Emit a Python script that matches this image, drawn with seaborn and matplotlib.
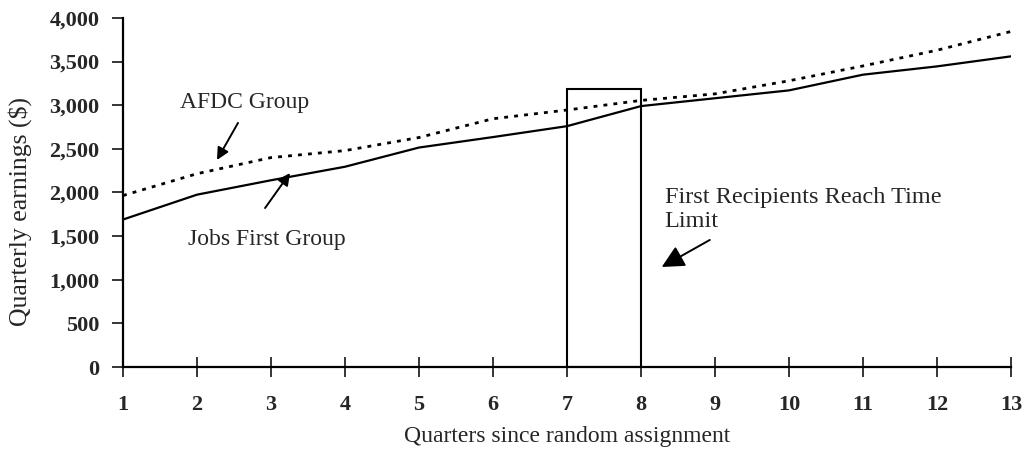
import pandas as pd
import numpy as np
import matplotlib
matplotlib.use("Agg")
import matplotlib.pyplot as plt
import seaborn as sns
from matplotlib.patches import Rectangle
from matplotlib.ticker import FuncFormatter

quarters = list(range(1, 14))
jobs_first = [1690, 1975, 2140, 2295, 2515, 2635, 2760, 2990, 3080, 3170, 3350, 3445, 3560]
afdc = [1965, 2215, 2400, 2480, 2630, 2845, 2945, 3055, 3130, 3280, 3450, 3630, 3845]
groups = ["Jobs First Group", "AFDC Group"]
time_limit_start = 7
time_limit_end = 8
time_limit_top = 3190

data = pd.DataFrame({
    "Quarter": quarters * 2,
    "Earnings": jobs_first + afdc,
    "Group": [groups[0]] * len(quarters) + [groups[1]] * len(quarters),
})

sns.set_style("white")
plt.rcParams["font.family"] = ["Liberation Serif", "DejaVu Serif"]

fig = plt.figure(figsize=(10.25, 4.49), dpi=100)
ax = fig.add_axes([0.12, 0.1826, 0.8663, 0.7774])

sns.lineplot(data=data[data.Group == groups[0]], x="Quarter", y="Earnings",
             color="black", linewidth=1.6, ax=ax)
sns.lineplot(data=data[data.Group == groups[1]], x="Quarter", y="Earnings",
             color="black", linewidth=2.0, linestyle=(0, (1.4, 2.2)), ax=ax)

ax.add_patch(Rectangle((time_limit_start, 0), time_limit_end - time_limit_start, time_limit_top,
                       fill=False, edgecolor="black", linewidth=1.5))

ax.set_xlim(1, 13)
ax.set_ylim(0, 4000)
ax.set_xticks(quarters)
ax.set_yticks(range(0, 4001, 500))
ax.yaxis.set_major_formatter(FuncFormatter(lambda v, p: f"{int(v):,}"))
ax.set_xlabel("Quarters since random assignment", fontsize=17, labelpad=8)
ax.set_ylabel("Quarterly earnings ($)", fontsize=18.5)
ax.yaxis.set_label_coords(-0.1025, 0.445)

ax.tick_params(axis="x", bottom=True, direction="inout", length=14, width=1.3,
               labelsize=16, pad=13)
ax.tick_params(axis="y", left=True, direction="out", length=8, width=1.3,
               labelsize=16, pad=9)
for lab in ax.get_xticklabels() + ax.get_yticklabels():
    lab.set_fontweight("bold")
sns.despine(ax=ax)
for s in ["left", "bottom"]:
    ax.spines[s].set_linewidth(1.6)
    ax.spines[s].set_color("black")

arrow = dict(arrowstyle="-|>", color="black", lw=1.4, mutation_scale=18, shrinkA=0, shrinkB=0)
ax.text(1.77, 2968, "AFDC Group", fontsize=17, va="baseline", ha="left")
ax.annotate("", xy=(2.27, 2373), xytext=(2.554, 2797), arrowprops=arrow)
ax.text(1.878, 1398, "Jobs First Group", fontsize=17, va="baseline", ha="left")
ax.annotate("", xy=(3.257, 2223), xytext=(2.92, 1822), arrowprops=arrow)
ax.text(8.32, 1605, "First Recipients Reach Time\nLimit", fontsize=17.5, va="baseline",
        ha="left", linespacing=1.2)
big_arrow = dict(arrow, mutation_scale=34)
ax.annotate("", xy=(8.28, 1146), xytext=(8.93, 1456), arrowprops=big_arrow)

fig.savefig("out.png", dpi=100)
